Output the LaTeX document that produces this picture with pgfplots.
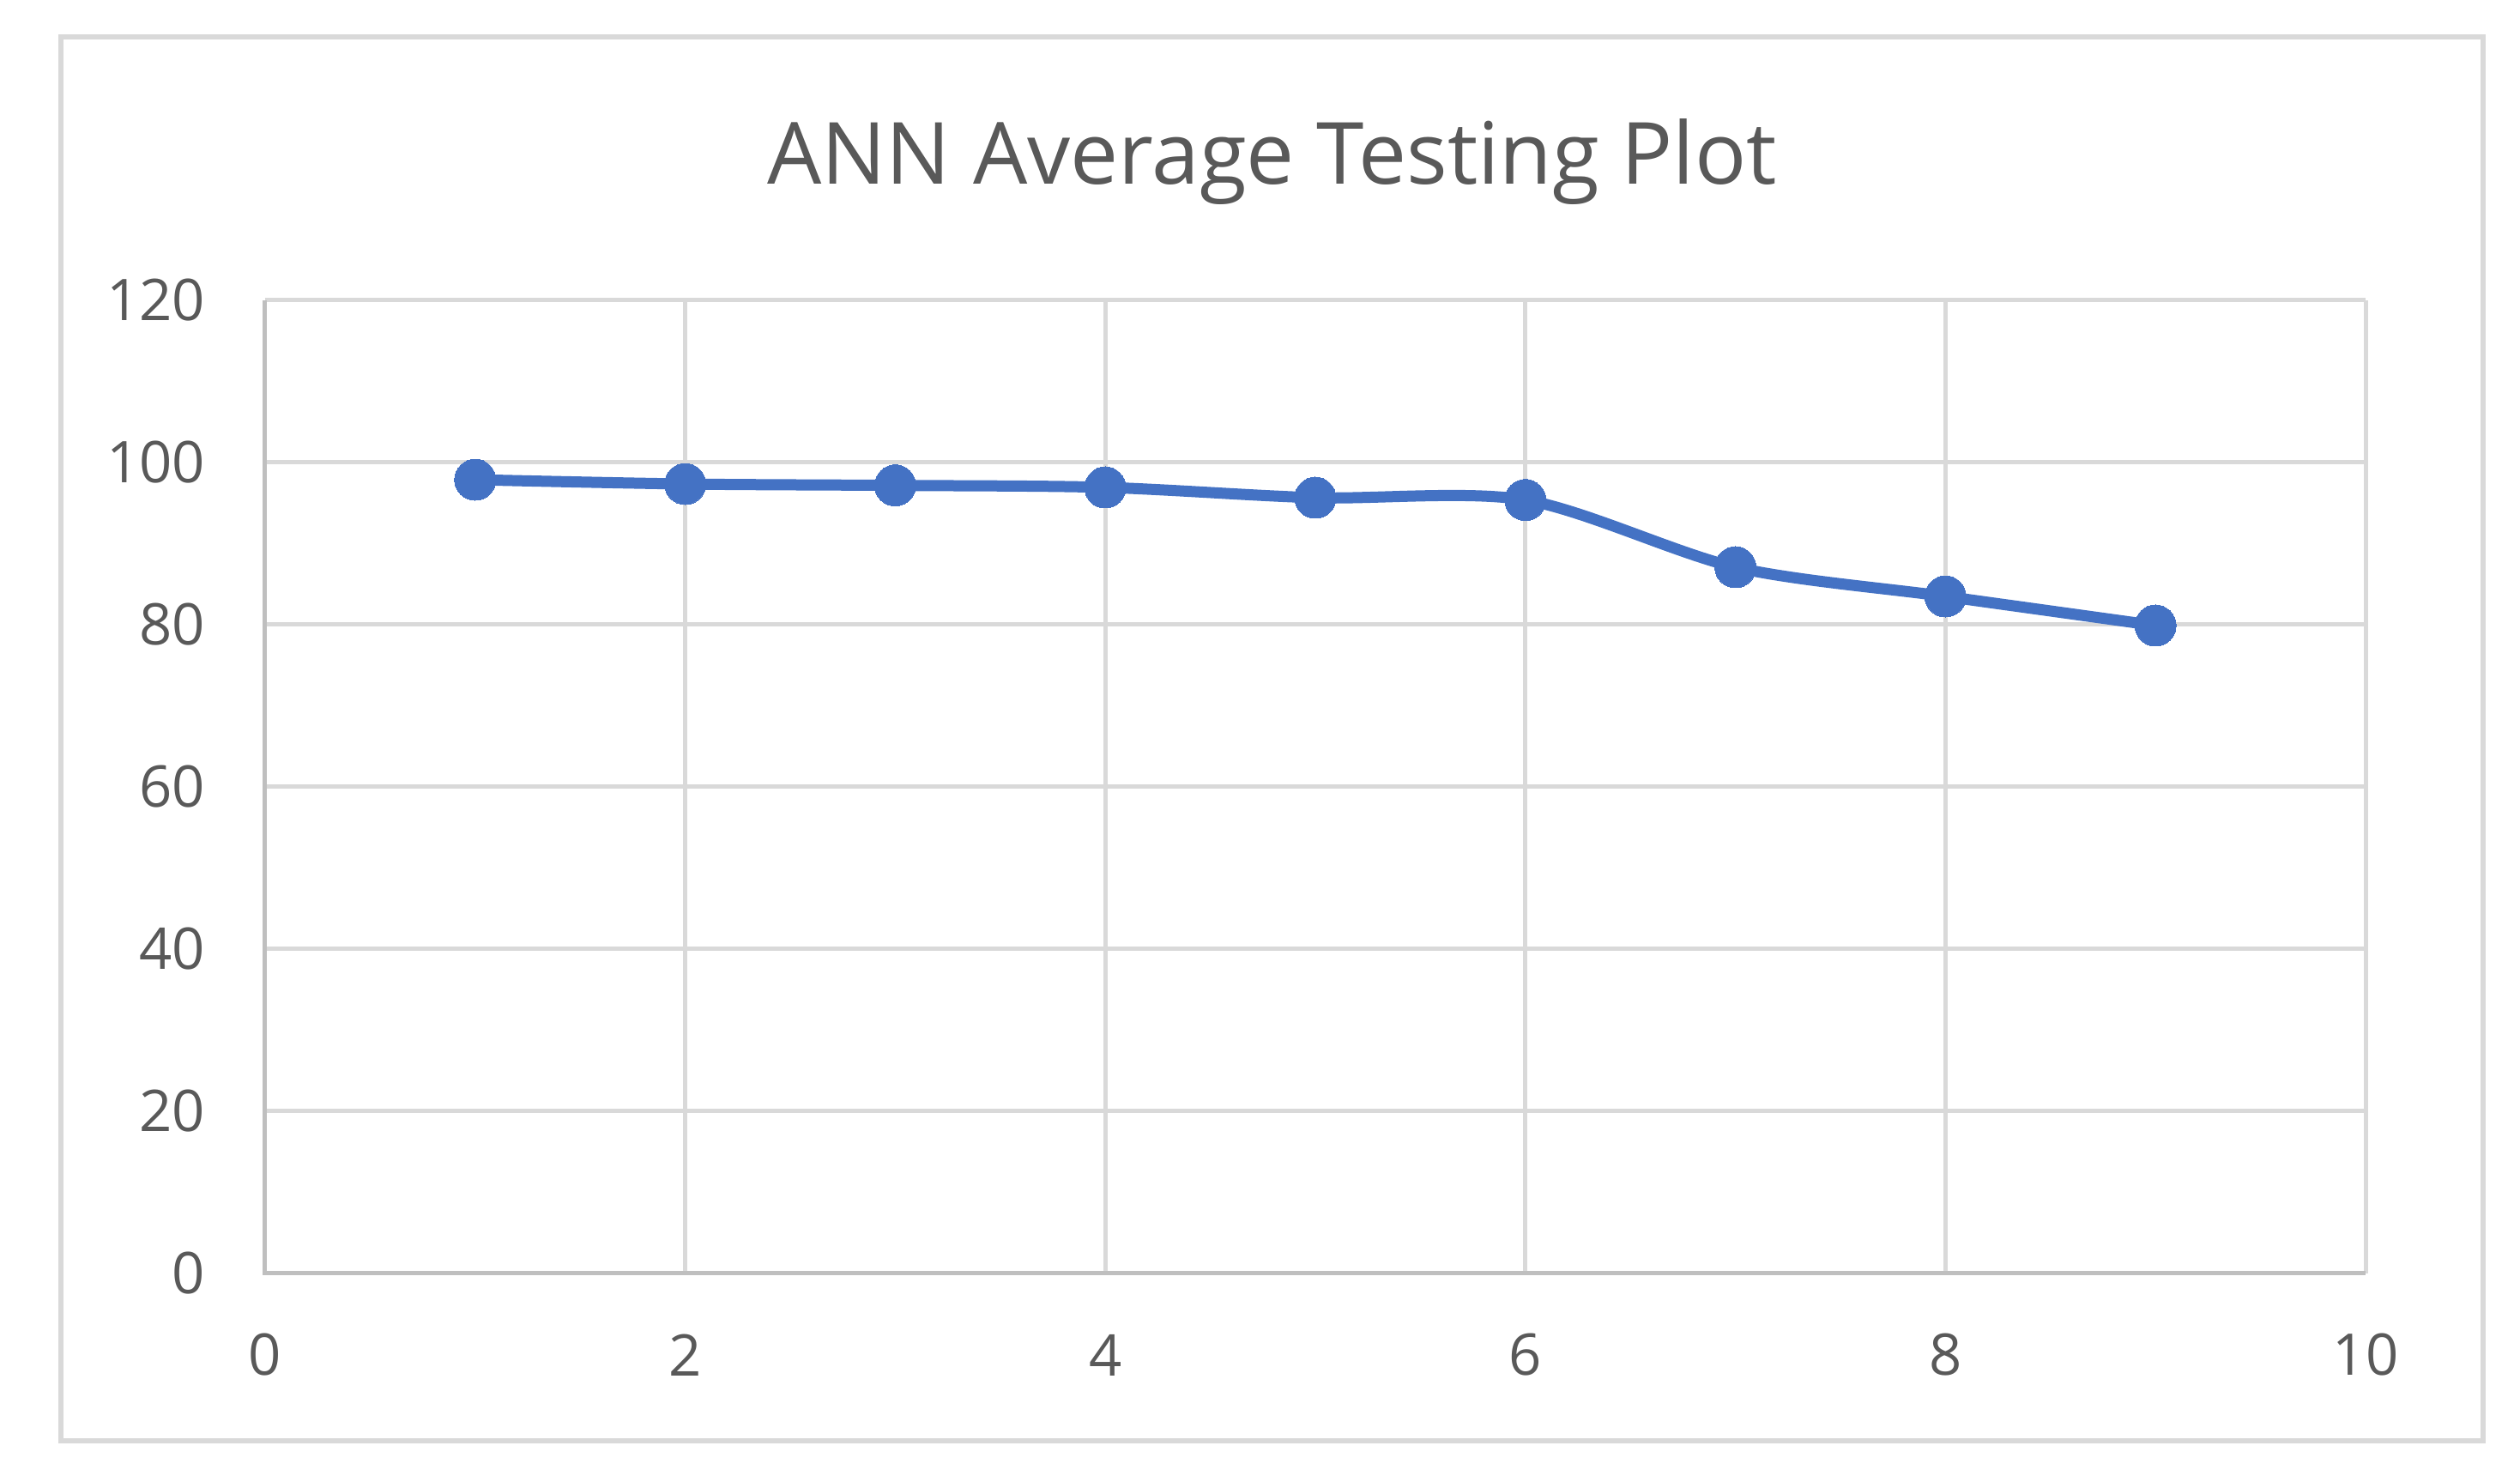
\documentclass[border=0pt]{standalone}
\usepackage{pgfplots}
\pgfplotsset{compat=1.18}
\usepackage{fontspec}
\setmainfont{Open Sans}
\definecolor{txt}{HTML}{595959}
\definecolor{gridc}{HTML}{D9D9D9}
\definecolor{axl}{HTML}{BFBFBF}
\definecolor{ser}{HTML}{4472C4}
\begin{document}
\begin{tikzpicture}
\path[use as bounding box] (-61.8pt,-48.6pt) rectangle (525.6pt,296.8pt);
\draw[gridc, line width=1.1pt] (-47.6pt,-39pt) rectangle (517pt,288.2pt);
\begin{axis}[
  at={(0,0)}, anchor=origin,
  scale only axis,
  width=489.6pt, height=226.8pt,
  xmin=0, xmax=10, ymin=0, ymax=120,
  xtick={0,2,...,10}, ytick={0,20,...,120},
  axis line style={draw=none},
  grid=major,
  major grid style={draw=gridc, line width=1pt},
  tick style={draw=none},
  /pgf/number format/assume math mode=true,
  tick label style={font=\fontsize{13.4}{16}\selectfont, text=txt},
  xticklabel style={anchor=center, yshift=-19pt, inner sep=0pt},
  yticklabel style={anchor=east, xshift=-13.8pt, inner sep=0pt},
  clip=false,
]
\draw[axl, line width=1pt] (axis cs:0,120) -- (axis cs:0,0) -- (axis cs:10,0);
\addplot[ser, line width=2.6pt, smooth, tension=0.5, mark=*, mark size=4.8pt, mark options={fill=ser, draw=ser, line width=0pt}]
coordinates {(1,97.88) (2,97.35) (3,97.18) (4,96.93) (5,95.66) (6,95.38) (7,87.09) (8,83.49) (9,79.9)};
\end{axis}
\node[anchor=base, text=txt, font=\fontsize{20}{24}\selectfont] at (234.7pt,253.8pt) {ANN Average Testing Plot};
\end{tikzpicture}
\end{document}
